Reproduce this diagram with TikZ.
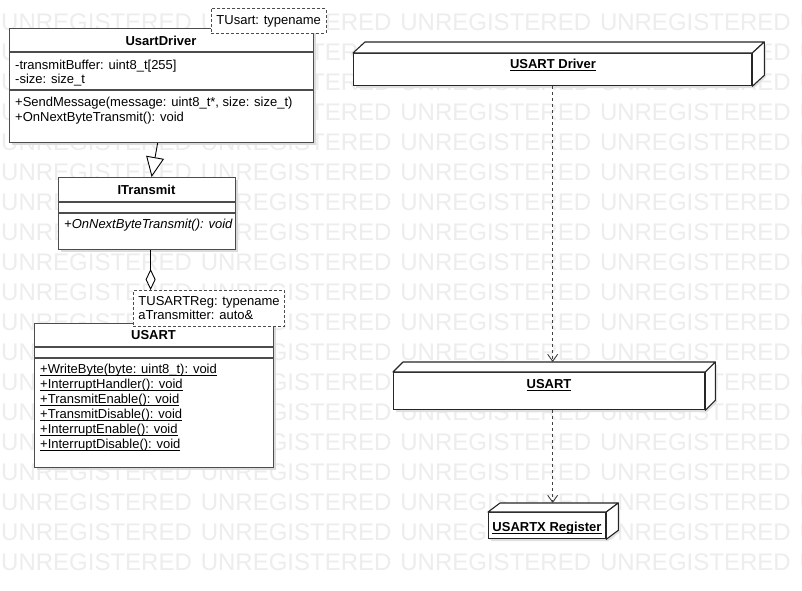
\documentclass[tikz,border=0pt]{standalone}
\usepackage{fontspec}
\setmainfont{Liberation Sans}
\usetikzlibrary{arrows.meta}

\tikzset{
  wmark/.style={anchor=west, inner sep=0, text height=17pt, text depth=0pt,
    font=\fontsize{24}{24}\selectfont, text=black!7},
  classbox/.style={draw=black!70, line width=1.2pt, fill=white, anchor=north west, inner sep=0},
  classline/.style={draw=black!70, line width=1.2pt},
  boxshadow/.style={fill=black!14, draw=none},
  member/.style={anchor=west, inner sep=0, text height=11pt, text depth=2pt,
    font=\fontsize{13}{15}\selectfont},
  classname/.style={inner sep=0, text height=11pt, text depth=2pt,
    font=\fontsize{13}{15}\selectfont\bfseries},
  tparam/.style={draw=black!70, dash pattern=on 3pt off 2pt, line width=0.9pt, fill=white,
    anchor=north west, inner xsep=5pt, inner ysep=0pt, align=left,
    font=\fontsize{13}{14}\selectfont},
  depnode/.style={draw=black!85, line width=1.3pt, fill=white, anchor=north west, inner sep=0},
  depside/.style={draw=black!85, line width=1.1pt, fill=white, line join=round},
  deplabel/.style={inner sep=0, text height=11pt, text depth=2pt,
    font=\fontsize{13}{15}\selectfont\bfseries},
  depshadow/.style={fill=black!12, draw=none},
  deparrow/.style={draw=black!75, line width=0.9pt, dash pattern=on 3pt off 3pt,
    -{Straight Barb[length=7pt,width=10pt]}},
  inherit/.style={draw=black, line width=0.9pt, -{Triangle[length=20pt,width=18pt,fill=white]}},
  aggr/.style={draw=black, line width=0.9pt, -{Diamond[length=21pt,width=10pt,fill=white]}},
}

\begin{document}
\begin{tikzpicture}[x=1pt,y=-1pt]
\fill[white] (0,0) rectangle (802,590);
\useasboundingbox (0,0) rectangle (802,590);

% watermark rows
\foreach \r in {0,...,18}
  \foreach \c in {0,...,4}
    \node[wmark] (wm-\r-\c) at (\c*199.6+1,22+\r*30) {UNREGISTERED};

% UsartDriver
\fill[boxshadow] (12,31) rectangle (316,145);
\node[classbox, minimum width=304pt, minimum height=114pt] (drv) at (9,28) {};
\draw[classline] (9,52) -- (313,52);
\draw[classline] (9,90) -- (313,90);
\node[classname] (drvname) at (161,41) {UsartDriver};
\node[member] (drvattr1) at (15,65) {-transmitBuffer: uint8\_t[255]};
\node[member] (drvattr2) at (15,79) {-size: size\_t};
\node[member] (drvop1) at (15,102) {+SendMessage(message: uint8\_t*, size: size\_t)};
\node[member] (drvop2) at (15,117) {+OnNextByteTransmit(): void};
\node[tparam, minimum width=112pt, minimum height=25pt] (drvtp) at (211,8) {TUsart: typename};

% ITransmit
\fill[boxshadow] (61,180) rectangle (238,252);
\node[classbox, minimum width=177pt, minimum height=72pt] (itx) at (58,177) {};
\draw[classline] (58,202) -- (235,202);
\draw[classline] (58,213) -- (235,213);
\node[classname] (itxname) at (146.5,190) {ITransmit};
\node[member, font=\fontsize{13}{15}\selectfont\itshape] (itxop1) at (64,224) {+OnNextByteTransmit(): void};

% USART
\fill[boxshadow] (37,326) rectangle (276,470);
\node[classbox, minimum width=239pt, minimum height=144pt] (usart) at (34,323) {};
\draw[classline] (34,347) -- (273,347);
\draw[classline] (34,358) -- (273,358);
\node[classname] (usartname) at (153.5,335) {USART};
\node[member] (usartop1) at (40,369) {\underline{\smash{+WriteByte(byte: uint8\_t): void}}};
\node[member] (usartop2) at (40,384) {\underline{\smash{+InterruptHandler(): void}}};
\node[member] (usartop3) at (40,399) {\underline{\smash{+TransmitEnable(): void}}};
\node[member] (usartop4) at (40,414) {\underline{\smash{+TransmitDisable(): void}}};
\node[member] (usartop5) at (40,429) {\underline{\smash{+InterruptEnable(): void}}};
\node[member] (usartop6) at (40,444) {\underline{\smash{+InterruptDisable(): void}}};
\node[tparam, minimum width=150pt, minimum height=36pt] (usarttp) at (133,290)
  {TUSARTReg: typename\\aTransmitter: auto\&};

% class relations
\draw[inherit] ([xshift=-4pt]drv.south) -- ([xshift=4.5pt]itx.north);
\draw[aggr] ([xshift=3.5pt]itx.south) -- ([xshift=3.5pt]itx.south |- usarttp.north);

% deployment: USART Driver
\fill[depshadow] (356,88) -- (754,88) -- (766,77) -- (766,45) -- (368,45) -- (356,56) -- cycle;
\node[depnode, minimum width=398pt, minimum height=32pt] (drvnode) at (353,53) {};
\draw[depside] (drvnode.north west) -- ++(12,-11) -- ([shift={(12,-11)}]drvnode.north east) -- (drvnode.north east) -- cycle;
\draw[depside] (drvnode.north east) -- ++(12,-11) -- ([shift={(12,-11)}]drvnode.south east) -- (drvnode.south east) -- cycle;
\node[deplabel] (drvlabel) at (553,64) {\underline{\smash{USART Driver}}};

% deployment: USART
\fill[depshadow] (396,412) -- (707,412) -- (717,402) -- (717,365) -- (406,365) -- (396,375) -- cycle;
\node[depnode, minimum width=311pt, minimum height=37pt] (usartnode) at (393,372) {};
\draw[depside] (usartnode.north west) -- ++(10,-10) -- ([shift={(10,-10)}]usartnode.north east) -- (usartnode.north east) -- cycle;
\draw[depside] (usartnode.north east) -- ++(10,-10) -- ([shift={(10,-10)}]usartnode.south east) -- (usartnode.south east) -- cycle;
\node[deplabel] (usartlabel) at (549,384) {\underline{\smash{USART}}};

% deployment: USARTX Register
\fill[depshadow] (491,541) -- (608,541) -- (620,532) -- (620,506) -- (503,506) -- (491,515) -- cycle;
\node[depnode, minimum width=117pt, minimum height=26pt] (regnode) at (488,512) {};
\draw[depside] (regnode.north west) -- ++(12,-9) -- ([shift={(12,-9)}]regnode.north east) -- (regnode.north east) -- cycle;
\draw[depside] (regnode.north east) -- ++(12,-9) -- ([shift={(12,-9)}]regnode.south east) -- (regnode.south east) -- cycle;
\node[deplabel] (reglabel) at (547,527) {\underline{\smash{USARTX Register}}};

% dependencies
\draw[deparrow, shorten >=10pt] (drvnode.south) -- (drvnode.south |- usartnode.north);
\draw[deparrow, shorten >=9pt] (usartnode.south -| drvnode.south) -- (drvnode.south |- regnode.north);
\end{tikzpicture}
\end{document}
